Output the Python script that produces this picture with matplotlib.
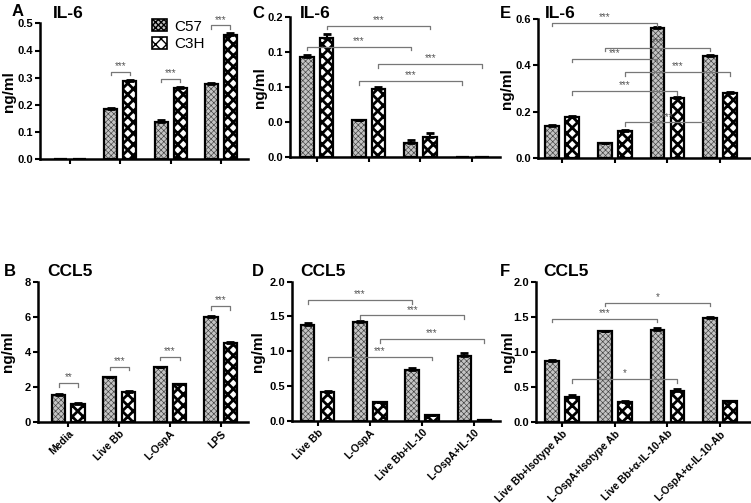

# Cytokine bar charts (IL-6 and CCL5) for C57 and C3H cells
# Six panels A-F, hatched bars with error bars and significance brackets

import numpy as np
import matplotlib
matplotlib.use("Agg")
import matplotlib.pyplot as plt

plt.rcParams['font.family'] = ['Liberation Sans', 'DejaVu Sans']
plt.rcParams['font.weight'] = 'bold'
plt.rcParams['hatch.linewidth'] = 1.0

# Group labels
groups_AB = ["Media", "Live Bb", "L-OspA", "LPS"]
groups_CD = ["Live Bb", "L-OspA", "Live Bb+IL-10", "L-OspA+IL-10"]
groups_EF = ["Live Bb+Isotype Ab", "L-OspA+Isotype Ab",
             "Live Bb+\u03b1-IL-10-Ab", "L-OspA+\u03b1-IL-10-Ab"]
series_names = ["C57", "C3H"]

# Panel A - IL-6
A_c57 = [0.0, 0.184, 0.136, 0.278]
A_c57_err = [0.0, 0.005, 0.009, 0.003]
A_c3h = [0.0, 0.288, 0.263, 0.457]
A_c3h_err = [0.0, 0.003, 0.003, 0.009]
# (group1, series1, group2, series2, height, label)
A_sig = [(1, 0, 1, 1, 0.321, "***"), (2, 0, 2, 1, 0.296, "***"),
         (3, 0, 3, 1, 0.492, "***")]

# Panel B - CCL5
B_c57 = [1.55, 2.55, 3.1, 6.0]
B_c57_err = [0.05, 0.03, 0.05, 0.04]
B_c3h = [1.02, 1.7, 2.15, 4.48]
B_c3h_err = [0.03, 0.04, 0.03, 0.1]
B_sig = [(0, 0, 0, 1, 2.2, "**"), (1, 0, 1, 1, 3.15, "***"),
         (2, 0, 2, 1, 3.7, "***"), (3, 0, 3, 1, 6.6, "***")]

# Panel C - IL-6
C_c57 = [0.144, 0.053, 0.021, 0.001]
C_c57_err = [0.002, 0.001, 0.004, 0.0]
C_c3h = [0.170, 0.098, 0.0295, 0.001]
C_c3h_err = [0.006, 0.002, 0.005, 0.0]
C_sig = [(0, 1, 2, 1, 0.188, "***"), (0, 0, 2, 0, 0.158, "***"),
         (1, 1, 3, 1, 0.133, "***"), (1, 0, 3, 0, 0.109, "***")]

# Panel D - CCL5
D_c57 = [1.38, 1.423, 0.736, 0.928]
D_c57_err = [0.02, 0.01, 0.02, 0.04]
D_c3h = [0.418, 0.27, 0.082, 0.005]
D_c3h_err = [0.005, 0.005, 0.005, 0.0]
D_sig = [(0, 0, 2, 0, 1.736, "***"), (1, 0, 3, 0, 1.514, "***"),
         (1, 1, 3, 1, 1.173, "***"), (0, 1, 2, 1, 0.923, "***")]

# Panel E - IL-6
E_c57 = [0.140, 0.066, 0.560, 0.442]
E_c57_err = [0.002, 0.002, 0.007, 0.005]
E_c3h = [0.178, 0.118, 0.260, 0.281]
E_c3h_err = [0.003, 0.002, 0.003, 0.004]
E_sig = [(0, 0, 2, 0, 0.584, "***"), (1, 0, 3, 0, 0.476, "***"),
         (0, 1, 2, 0, 0.429, "***"), (1, 1, 3, 1, 0.371, "***"),
         (0, 1, 2, 1, 0.289, "***"), (1, 1, 3, 0, 0.155, "***")]

# Panel F - CCL5
F_c57 = [0.865, 1.293, 1.317, 1.48]
F_c57_err = [0.025, 0.005, 0.02, 0.015]
F_c3h = [0.36, 0.279, 0.433, 0.298]
F_c3h_err = [0.02, 0.015, 0.03, 0.005]
F_sig = [(1, 0, 3, 0, 1.70, "*"), (0, 0, 2, 0, 1.476, "***"),
         (0, 1, 2, 1, 0.61, "*")]

# Y axis ticks
A_yticks = [0, 0.1, 0.2, 0.3, 0.4, 0.5]
B_yticks = [0, 2, 4, 6, 8]
C_yticks = [0, 0.05, 0.1, 0.15, 0.2]
C_yticklabels = ["0.0", "0.0", "0.1", "0.1", "0.2"]
D_yticks = [0, 0.5, 1.0, 1.5, 2.0]
E_yticks = [0, 0.2, 0.4, 0.6]
F_yticks = [0, 0.5, 1.0, 1.5, 2.0]

# Bar style: fill colour, hatch, hatch colour, hatch line width
offset = 0.19
width = 0.26
bar_fill = ["#c4c4c4", "white"]
hatches = ["xxxxxx", "xxx"]
hatch_color = ["#404040", "black"]
hatch_lw = [0.45, 2.0]


def draw_panel(ax, c57, c57_err, c3h, c3h_err, sig, yticks, ylabels, groups,
               xlim, show_labels, label_x):
    x = np.arange(len(c57))
    for s, (vals, errs) in enumerate([(c57, c57_err), (c3h, c3h_err)]):
        pos = x + (2 * s - 1) * offset
        # hatched fill, its edge colour sets the hatch colour
        with plt.rc_context({"hatch.linewidth": hatch_lw[s]}):
            bars = ax.bar(pos, vals, width, color=bar_fill[s],
                          edgecolor=hatch_color[s], linewidth=0,
                          hatch=hatches[s], zorder=2)
            for b in bars:
                if hasattr(b, "set_hatch_linewidth"):
                    b.set_hatch_linewidth(hatch_lw[s])
        # black outline on top
        ax.bar(pos, vals, width, fill=False, edgecolor="black",
               linewidth=1.6, zorder=2.5)
        # only the upper half of the error bar shows above the bar
        ax.errorbar(pos, vals, yerr=[np.zeros(len(vals)), errs], fmt="none",
                    ecolor="black", elinewidth=1.5, capsize=3, capthick=2,
                    zorder=3)
    # Significance brackets
    top = yticks[-1]
    tick = top * 0.025
    for g1, s1, g2, s2, h, lab in sig:
        x1 = g1 + (2 * s1 - 1) * offset
        x2 = g2 + (2 * s2 - 1) * offset
        ax.plot([x1, x1, x2, x2], [h - tick, h, h, h - tick], color="#777777",
                linewidth=0.9, zorder=4, clip_on=False)
        ax.text((x1 + x2) / 2, h + top * 0.005, lab, ha="center",
                va="bottom", fontsize=7, color="#555555", fontweight="normal",
                zorder=4)
    # Axes styling
    ax.set_ylim(0, top)
    ax.set_xlim(xlim)
    ax.set_yticks(yticks)
    ax.set_yticklabels(ylabels, fontsize=8, fontweight="bold")
    ax.set_xticks(x)
    if show_labels:
        ax.set_xticklabels(groups, rotation=45, ha="right",
                           rotation_mode="anchor", fontsize=7.5,
                           fontweight="bold")
    else:
        ax.set_xticklabels([])
    ax.spines["top"].set_visible(False)
    ax.spines["right"].set_visible(False)
    ax.spines["left"].set_linewidth(1.8)
    ax.spines["bottom"].set_linewidth(1.8)
    ax.tick_params(axis="both", direction="out", length=3.5, width=1.5,
                   pad=1.5)
    ax.set_ylabel("ng/ml", fontsize=11, fontweight="bold")
    ax.yaxis.set_label_coords(label_x, 0.5)


fig = plt.figure(figsize=(7.51, 5.03), dpi=100)

# Panel positions in pixels: left, right, top, bottom, ylabel right edge
W, H = 751.0, 503.0
boxes = {
    "A": (40, 248, 23.3, 159.3, 16),
    "C": (290, 500, 17.3, 157.3, 267),
    "E": (538, 750, 19, 158.3, 514),
    "B": (38, 248, 281.7, 421.7, 15),
    "D": (292, 500, 281.7, 420.7, 265),
    "F": (536, 750, 282, 421.7, 515),
}
axes = {}
lab_x = {}
for key, (l, r, t, b, lx) in boxes.items():
    axes[key] = fig.add_axes([l / W, 1 - b / H, (r - l) / W, (b - t) / H])
    lab_x[key] = (lx - l) / (r - l)

fmt1 = lambda v: "{:.1f}".format(v)
draw_panel(axes["A"], A_c57, A_c57_err, A_c3h, A_c3h_err, A_sig, A_yticks,
           [fmt1(v) for v in A_yticks], groups_AB, (-0.6, 3.54), False,
           lab_x["A"])
draw_panel(axes["B"], B_c57, B_c57_err, B_c3h, B_c3h_err, B_sig, B_yticks,
           [str(v) for v in B_yticks], groups_AB, (-0.6, 3.54), True,
           lab_x["B"])
draw_panel(axes["C"], C_c57, C_c57_err, C_c3h, C_c3h_err, C_sig, C_yticks,
           C_yticklabels, groups_CD, (-0.52, 3.54), False, lab_x["C"])
draw_panel(axes["D"], D_c57, D_c57_err, D_c3h, D_c3h_err, D_sig, D_yticks,
           [fmt1(v) for v in D_yticks], groups_CD, (-0.49, 3.49), True,
           lab_x["D"])
draw_panel(axes["E"], E_c57, E_c57_err, E_c3h, E_c3h_err, E_sig, E_yticks,
           [fmt1(v) for v in E_yticks], groups_EF, (-0.46, 3.57), False,
           lab_x["E"])
draw_panel(axes["F"], F_c57, F_c57_err, F_c3h, F_c3h_err, F_sig, F_yticks,
           [fmt1(v) for v in F_yticks], groups_EF, (-0.5, 3.57), True,
           lab_x["F"])

# Legend in panel A, handles built like the bars
handles = []
for s in range(2):
    with plt.rc_context({"hatch.linewidth": hatch_lw[s]}):
        p = plt.Rectangle((0, 0), 1, 1, facecolor=bar_fill[s],
                          edgecolor="black", linewidth=1.2, hatch=hatches[s])
        if hasattr(p, "set_hatch_linewidth"):
            p.set_hatch_linewidth(hatch_lw[s])
    handles.append(p)
axes["A"].legend(handles, series_names, loc="upper left",
                 bbox_to_anchor=(0.47, 1.13), frameon=False,
                 handlelength=1.0, handleheight=0.8, handletextpad=0.5,
                 labelspacing=0.25, prop={"size": 11, "weight": "normal"})

# Panel letters and titles
letters = [("A", 12, 12), ("C", 252, 13), ("E", 500, 13),
           ("B", 4, 272), ("D", 252, 272), ("F", 500, 272)]
for lab, px, py in letters:
    fig.text(px / W, 1 - py / H, lab, fontsize=12, fontweight="bold",
             ha="left", va="center")
titles = [("IL-6", 53, 13), ("IL-6", 300, 14), ("IL-6", 545, 14),
          ("CCL5", 47, 272), ("CCL5", 300, 272), ("CCL5", 543, 272)]
for lab, px, py in titles:
    fig.text(px / W, 1 - py / H, lab, fontsize=12.5, fontweight="bold",
             ha="left", va="center")

fig.savefig("out.png", dpi=100)
